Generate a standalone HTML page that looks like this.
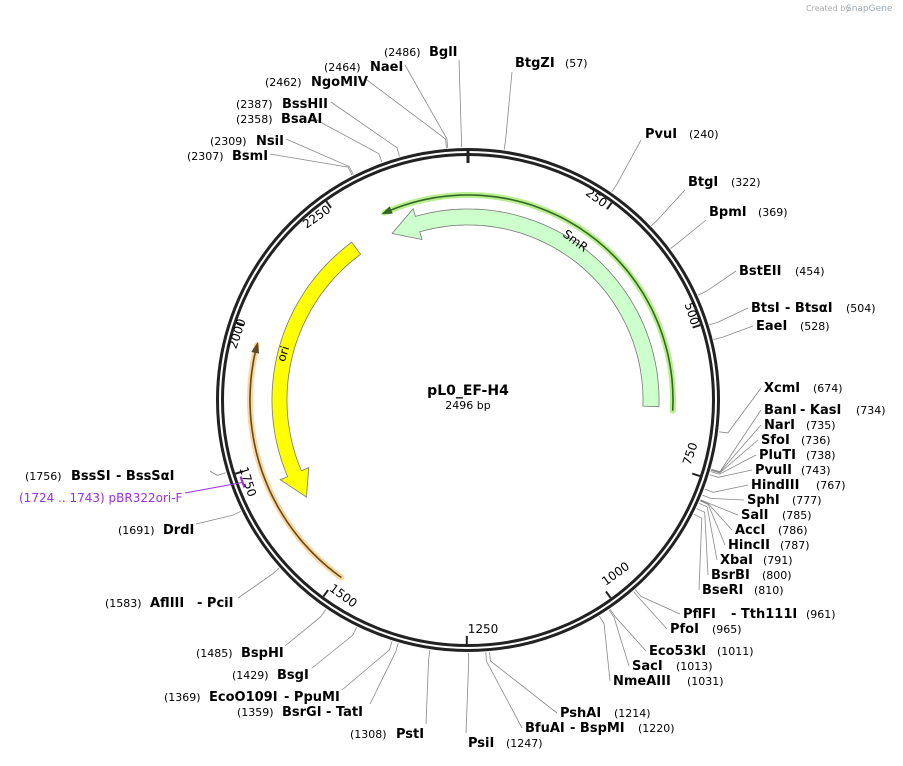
<!DOCTYPE html>
<html><head><meta charset="utf-8"><style>
body{margin:0;background:#fff}
svg{font-family:"DejaVu Sans","Liberation Sans",sans-serif}
.n{font-size:13px;font-weight:bold;fill:#000}
.p{font-size:11px;fill:#000}
.t{font-size:12px;fill:#000}
</style></head><body>
<svg id="s" width="903" height="761" viewBox="0 0 903 761" xmlns="http://www.w3.org/2000/svg">
<g id="lines" stroke="#888" stroke-width="0.8" fill="none"></g>
<g id="shapes"></g>
<text x="806" y="11" font-size="8" fill="#aaa">Created by</text><text x="846" y="11" font-size="9" fill="#9ab">SnapGene</text>
<text x="468" y="395" text-anchor="middle" font-size="14" font-weight="bold">pL0_EF-H4</text>
<text x="468" y="409" text-anchor="middle" font-size="11">2496 bp</text>
<g id="ticklabels" class="t"></g>
<!-- right labels -->
<text class="n" x="515" y="67">BtgZI</text><text class="p" x="565" y="67">(57)</text>
<text class="n" x="645" y="138">PvuI</text><text class="p" x="689" y="138">(240)</text>
<text class="n" x="688" y="186">BtgI</text><text class="p" x="731" y="186">(322)</text>
<text class="n" x="709" y="216">BpmI</text><text class="p" x="758" y="216">(369)</text>
<text class="n" x="739" y="275">BstEII</text><text class="p" x="795" y="275">(454)</text>
<text class="n" x="751" y="312">BtsI</text><text class="n" x="785" y="312">- BtsαI</text><text class="p" x="846" y="312">(504)</text>
<text class="n" x="756" y="330">EaeI</text><text class="p" x="800" y="330">(528)</text>
<text class="n" x="764" y="392">XcmI</text><text class="p" x="813" y="392">(674)</text>
<text class="n" x="764" y="414">BanI</text><text class="n" x="800" y="414">- KasI</text><text class="p" x="856" y="414">(734)</text>
<text class="n" x="764" y="429">NarI</text><text class="p" x="806" y="429">(735)</text>
<text class="n" x="761" y="444">SfoI</text><text class="p" x="801" y="444">(736)</text>
<text class="n" x="759" y="459">PluTI</text><text class="p" x="806" y="459">(738)</text>
<text class="n" x="755" y="474">PvuII</text><text class="p" x="801" y="474">(743)</text>
<text class="n" x="751" y="489">HindIII</text><text class="p" x="816" y="489">(767)</text>
<text class="n" x="747" y="504">SphI</text><text class="p" x="792" y="504">(777)</text>
<text class="n" x="741" y="519">SalI</text><text class="p" x="782" y="519">(785)</text>
<text class="n" x="735" y="534">AccI</text><text class="p" x="778" y="534">(786)</text>
<text class="n" x="728" y="549">HincII</text><text class="p" x="780" y="549">(787)</text>
<text class="n" x="720" y="564">XbaI</text><text class="p" x="763" y="564">(791)</text>
<text class="n" x="711" y="579">BsrBI</text><text class="p" x="762" y="579">(800)</text>
<text class="n" x="702" y="594">BseRI</text><text class="p" x="754" y="594">(810)</text>
<text class="n" x="683" y="618">PflFI</text><text class="n" x="731" y="618">- Tth111I</text><text class="p" x="806" y="618">(961)</text>
<text class="n" x="670" y="633">PfoI</text><text class="p" x="712" y="633">(965)</text>
<text class="n" x="649" y="655">Eco53kI</text><text class="p" x="717" y="655">(1011)</text>
<text class="n" x="632" y="670">SacI</text><text class="p" x="676" y="670">(1013)</text>
<text class="n" x="613" y="685">NmeAIII</text><text class="p" x="687" y="685">(1031)</text>
<text class="n" x="560" y="717">PshAI</text><text class="p" x="614" y="717">(1214)</text>
<text class="n" x="525" y="732">BfuAI</text><text class="n" x="570" y="732">- BspMI</text><text class="p" x="638" y="732">(1220)</text>
<text class="n" x="468" y="747">PsiI</text><text class="p" x="506" y="747">(1247)</text>
<!-- left labels -->
<text class="p" x="350" y="738">(1308)</text><text class="n" x="396" y="738">PstI</text>
<text class="p" x="237" y="716">(1359)</text><text class="n" x="282" y="716">BsrGI</text><text class="n" x="326" y="716">- TatI</text>
<text class="p" x="164" y="701">(1369)</text><text class="n" x="209" y="701">EcoO109I</text><text class="n" x="284" y="701">- PpuMI</text>
<text class="p" x="232" y="679">(1429)</text><text class="n" x="277" y="679">BsgI</text>
<text class="p" x="196" y="657">(1485)</text><text class="n" x="241" y="657">BspHI</text>
<text class="p" x="105" y="607">(1583)</text><text class="n" x="150" y="607">AflIII</text><text class="n" x="197" y="607">- PciI</text>
<text class="p" x="118" y="534">(1691)</text><text class="n" x="163" y="534">DrdI</text>
<text x="19" y="502" font-size="12" fill="#9b30e0">(1724 .. 1743)  pBR322ori-F</text>
<text class="p" x="25" y="480">(1756)</text><text class="n" x="71" y="480">BssSI</text><text class="n" x="116" y="480">- BssSαI</text>
<text class="p" x="187" y="160">(2307)</text><text class="n" x="232" y="160">BsmI</text>
<text class="p" x="210" y="145">(2309)</text><text class="n" x="256" y="145">NsiI</text>
<text class="p" x="236" y="123">(2358)</text><text class="n" x="281" y="123">BsaAI</text>
<text class="p" x="236" y="108">(2387)</text><text class="n" x="282" y="108">BssHII</text>
<text class="p" x="265" y="86">(2462)</text><text class="n" x="311" y="86">NgoMIV</text>
<text class="p" x="324" y="71">(2464)</text><text class="n" x="370" y="71">NaeI</text>
<text class="p" x="384" y="56">(2486)</text><text class="n" x="429" y="56">BglI</text>
<text x="573" y="244" font-size="12" transform="rotate(37 573 244)" text-anchor="middle">SmR</text>
<text x="287" y="355" font-size="12" transform="rotate(-72 287 355)" text-anchor="middle">ori</text>
</svg>
<script>
var cx=468,cy=400,N=2496,NS="http://www.w3.org/2000/svg";
function P(r,a){a=a*Math.PI/180;return [cx+r*Math.sin(a),cy-r*Math.cos(a)];}
function ang(p){return p/N*360;}
function el(t,at,par){var e=document.createElementNS(NS,t);for(var k in at)e.setAttribute(k,at[k]);document.getElementById(par).appendChild(e);return e;}
function arc(r,a0,a1){var s="",n=80;for(var i=0;i<=n;i++){var p=P(r,a0+(a1-a0)*i/n);s+=(i?"L":"M")+p[0].toFixed(1)+" "+p[1].toFixed(1);}return s;}
el("circle",{cx:cx,cy:cy,r:250.5,fill:"none",stroke:"#222","stroke-width":3},"shapes");
el("circle",{cx:cx,cy:cy,r:245.5,fill:"none",stroke:"#222","stroke-width":3},"shapes");
el("line",{x1:468,y1:150,x2:468,y2:163,stroke:"#222","stroke-width":3},"shapes");
[250,500,750,1000,1250,1500,1750,2000,2250].forEach(function(t){var a=ang(t),p=P(244,a),q=P(236,a);el("line",{x1:p[0],y1:p[1],x2:q[0],y2:q[1],stroke:"#222","stroke-width":2},"shapes");});
var tl=[[250,594,201],[500,688,315],[750,694,455],[1000,618,577],[1250,483,633],[1500,341,599],[1750,244,483],[2000,241,335],[2250,319,220]];
tl.forEach(function(t){var a=ang(t[0]);var rot=(a>90&&a<270)?a-180:a;var e=el("text",{x:t[1],y:t[2],"text-anchor":"middle","font-size":12,transform:"rotate("+rot.toFixed(1)+" "+t[1]+" "+t[2]+")"},"ticklabels");e.textContent=t[0];});
function feat(r1,r2,tail,hb,tip,hw,fill){var s=arc(r2,tail,hb);var p=P(r2+hw,hb),q=P((r1+r2)/2,tip),u=P(r1-hw,hb);s+="L"+p[0]+" "+p[1]+"L"+q[0]+" "+q[1]+"L"+u[0]+" "+u[1];var pts=arc(r1,hb,tail).replace(/^M/,"L");s+=pts+"Z";el("path",{d:s,fill:fill,stroke:"#777","stroke-width":0.8},"shapes");}
feat(175,191,92,-16,-24.5,8,"#ccffcc");
feat(181,196,-36.4,-113,-121,8,"#ffff00");
function primer(r,a0,a1,col,halo){el("path",{d:arc(r,a0,a1),fill:"none",stroke:halo,"stroke-width":6,"stroke-linecap":"round"},"shapes");el("path",{d:arc(r,a0,a1),fill:"none",stroke:col,"stroke-width":1.6},"shapes");var d=a1>a0?1:-1;var t=P(r,a1+d*1),b1=P(r+4,a1-d*2),b2=P(r-4,a1-d*2);el("path",{d:"M"+t+"L"+b1+"L"+b2+"Z",fill:col},"shapes");}
primer(205,93,-24,"#336622","#b8f090");
primer(218,215.5,284.5,"#5a4a2a","#ffd699");
var a0=ang(1724),a1=ang(1743);el("path",{d:arc(240,a0,a1),fill:"none",stroke:"#9b30e0","stroke-width":2},"shapes");
var pp=P(241,ang(1733));el("line",{x1:185,y1:493,x2:pp[0],y2:pp[1],stroke:"#9b30e0","stroke-width":1},"shapes");
var L=[[57,512,72],[240,641,140],[322,685,190],[369,706,220],[454,736,271],[504,748,308],[528,753,326],[674,761,388],[734,761,410],[735,761,425],[736,758,440],[738,756,455],[743,752,470],[767,748,485],[777,744,500],[785,738,515],[786,732,530],[787,725,545],[791,717,560],[800,708,575],[810,699,590],[961,680,614],[965,667,629],[1011,646,651],[1013,629,666],[1031,610,681],[1214,557,713],[1220,522,728],[1247,466,733],
[1308,426,724],[1359,370,704],[1369,342,690],[1429,312,668],[1485,285,646],[1583,238,598],[1691,196,524],[1756,210,471],[2307,270,154],[2309,286,139],[2358,311,117],[2387,331,102],[2462,367,80],[2464,405,65],[2486,459,60]];
L.forEach(function(l){var a=ang(l[0]),p=P(253,a),m=P(262,a);el("path",{d:"M"+p[0].toFixed(1)+" "+p[1].toFixed(1)+"L"+m[0].toFixed(1)+" "+m[1].toFixed(1)+"L"+l[1]+" "+l[2]},"lines");});
</script>
</body></html>
